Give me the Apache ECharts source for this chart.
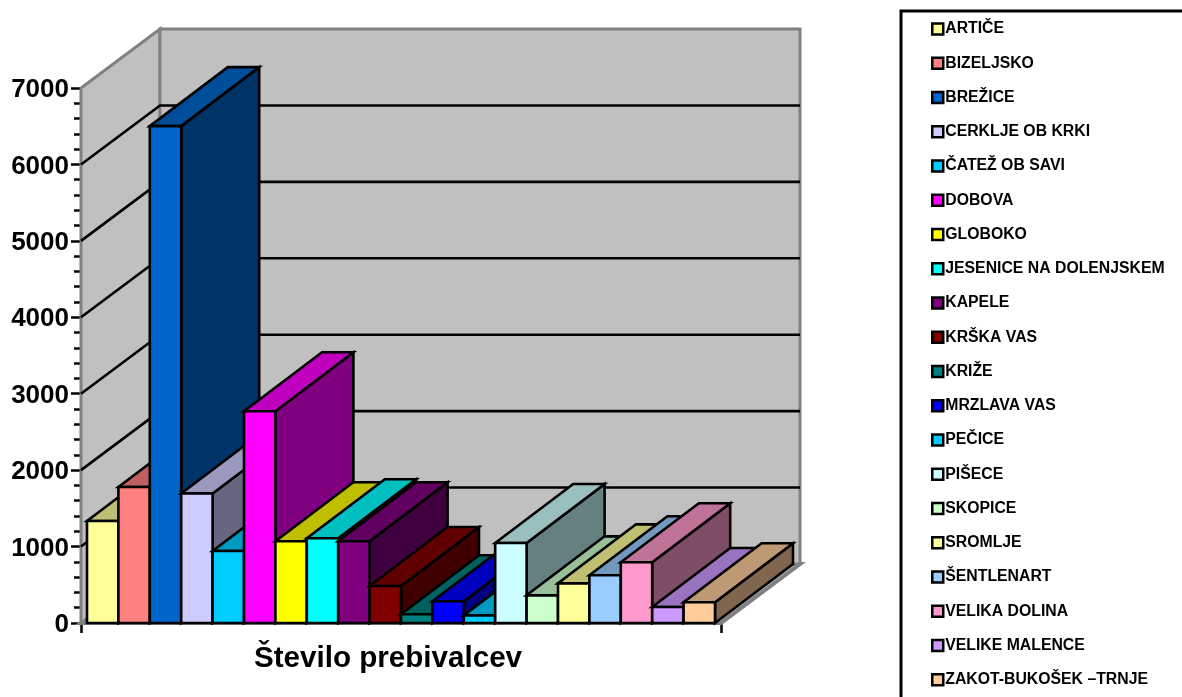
<!DOCTYPE html>
<html>
<head>
<meta charset="utf-8">
<style>html,body{margin:0;padding:0;background:#fff;overflow:hidden}#c{width:1182px;height:697px}</style>
<script src="https://cdn.jsdelivr.net/npm/echarts@6/dist/echarts.min.js"></script>
</head>
<body>
<div id="c"></div>
<script>
const places = ['ARTIČE','BIZELJSKO','BREŽICE','CERKLJE OB KRKI','ČATEŽ OB SAVI','DOBOVA','GLOBOKO','JESENICE NA DOLENJSKEM','KAPELE','KRŠKA VAS','KRIŽE','MRZLAVA VAS','PEČICE','PIŠECE','SKOPICE','SROMLJE','ŠENTLENART','VELIKA DOLINA','VELIKE MALENCE','ZAKOT-BUKOŠEK –TRNJE'];
const population = [1335,1780,6501,1694,942,2770,1069,1108,1069,484,114,284,100,1047,362,519,624,794,209,271];
const colors = ['#FFFF99','#FF8080','#0066CC','#CCCCFF','#00CCFF','#FF00FF','#FFFF00','#00FFFF','#800080','#800000','#008080','#0000FF','#00CCFF','#CCFFFF','#CCFFCC','#FFFF99','#99CCFF','#FF99CC','#CC99FF','#FFCC99'];
const categories = ['Število prebivalcev'];
const gridTicks = [1000,2000,3000,4000,5000,6000,7000];

const FONT = '"Liberation Sans", Arial, sans-serif';
const DX = 78, DY = -59;          // oblique depth of a bar
const WX = 79, WY = -59;          // oblique depth of the walls
const BAR_SHARE = 628 / 640;      // share of the category band used by the cluster
const INK = 2.6;

function shade(hex, f) {
  const n = parseInt(hex.slice(1), 16);
  const ch = s => Math.round(((n >> s) & 255) * f);
  return 'rgb(' + ch(16) + ',' + ch(8) + ',' + ch(0) + ')';
}
function poly(points, fill, stroke, lw) {
  return {type: 'polygon', shape: {points}, style: {fill, stroke, lineWidth: lw, lineJoin: 'miter'}, silent: true};
}

const wallSeries = {
  type: 'custom', name: 'walls', coordinateSystem: 'cartesian2d', silent: true, z: 1,
  data: [[0, 0]].concat(gridTicks.map(t => [0, t])),
  renderItem(params, api) {
    const v = api.value(1);
    const c = api.coord([0, v]);
    const half = api.size([1, 0])[0] / 2;
    const l = c[0] - half, r = c[0] + half, y = c[1];
    if (v === 0) {
      const top = api.coord([0, 7000])[1];
      return {type: 'group', children: [
        poly([[l, y], [r, y], [r + WX, y + WY], [l + WX, y + WY]], '#C0C0C0', '#808080', 4),
        poly([[l, y], [l + WX, y + WY], [l + WX, top + WY], [l, top]], '#C0C0C0', '#808080', 3),
        poly([[l + WX, y + WY], [r + WX, y + WY], [r + WX, top + WY], [l + WX, top + WY]], '#C0C0C0', '#808080', 3)
      ]};
    }
    if (v === 7000) return {type: 'group', children: []};
    return {type: 'polyline', silent: true,
      shape: {points: [[l, y], [l + WX, y + WY], [r + WX, y + WY]]},
      style: {fill: 'none', stroke: '#000', lineWidth: INK}};
  }
};

const barSeries = places.map((name, i) => ({
  type: 'custom', name, coordinateSystem: 'cartesian2d', silent: true, z: 2,
  itemStyle: {color: colors[i]},
  data: [[0, population[i]]],
  renderItem(params, api) {
    const top = api.coord([0, api.value(1)]);
    const base = api.coord([0, 0]);
    const w = api.size([1, 0])[0] * BAR_SHARE / places.length;
    const x0 = top[0] + (i - places.length / 2) * w, x1 = x0 + w;
    const yt = top[1], yb = base[1];
    const c = colors[i];
    return {type: 'group', children: [
      poly([[x1, yb], [x1 + DX, yb + DY], [x1 + DX, yt + DY], [x1, yt]], shade(c, 0.5), '#000', INK),
      poly([[x0, yt], [x0 + DX, yt + DY], [x1 + DX, yt + DY], [x1, yt]], shade(c, 0.75), '#000', INK),
      poly([[x0, yb], [x1, yb], [x1, yt], [x0, yt]], c, '#000', INK)
    ]};
  }
}));

const chart = echarts.init(document.getElementById('c'), null, {renderer: 'canvas'});
chart.setOption({
  animation: false,
  backgroundColor: '#fff',
  grid: {left: 81, width: 640, top: 88, height: 535, containLabel: false},
  xAxis: {
    type: 'category', data: categories,
    axisLine: {show: true, lineStyle: {color: '#000', width: 2.5}},
    axisTick: {show: true, length: 10, lineStyle: {color: '#000', width: 2.5}},
    axisLabel: {margin: 21, padding: [0, 26, 0, 0], fontFamily: FONT, fontWeight: 'bold', fontSize: 29.6, color: '#000'},
    splitLine: {show: false}
  },
  yAxis: {
    type: 'value', min: 0, max: 7000, interval: 1000,
    axisLine: {show: true, lineStyle: {color: '#000', width: 2.5}},
    axisTick: {show: true, length: 10, lineStyle: {color: '#000', width: 2.5}},
    minorTick: {show: true, splitNumber: 5, length: 7, lineStyle: {color: '#000', width: 2.5}},
    axisLabel: {margin: 12, verticalAlign: 'bottom', lineHeight: 26, padding: [0, 0, -15, 0], fontFamily: FONT, fontWeight: 'bold', fontSize: 26, color: '#000', formatter: v => String(v)},
    splitLine: {show: false}
  },
  legend: {
    orient: 'vertical', left: 931, top: 21, padding: 0,
    data: places, icon: 'rect', itemWidth: 11, itemHeight: 11, itemGap: 18.25,
    selectedMode: false,
    itemStyle: {borderColor: '#000', borderWidth: 2.5},
    textStyle: {fontFamily: FONT, fontWeight: 'bold', fontSize: 15.8, color: '#000', lineHeight: 14, padding: [0, 0, 0, -3]}
  },
  graphic: [{
    type: 'rect', silent: true, z: 0,
    shape: {x: 901, y: 11, width: 400, height: 800},
    style: {fill: 'none', stroke: '#000', lineWidth: 3}
  }],
  series: [wallSeries].concat(barSeries)
});
</script>
</body>
</html>
